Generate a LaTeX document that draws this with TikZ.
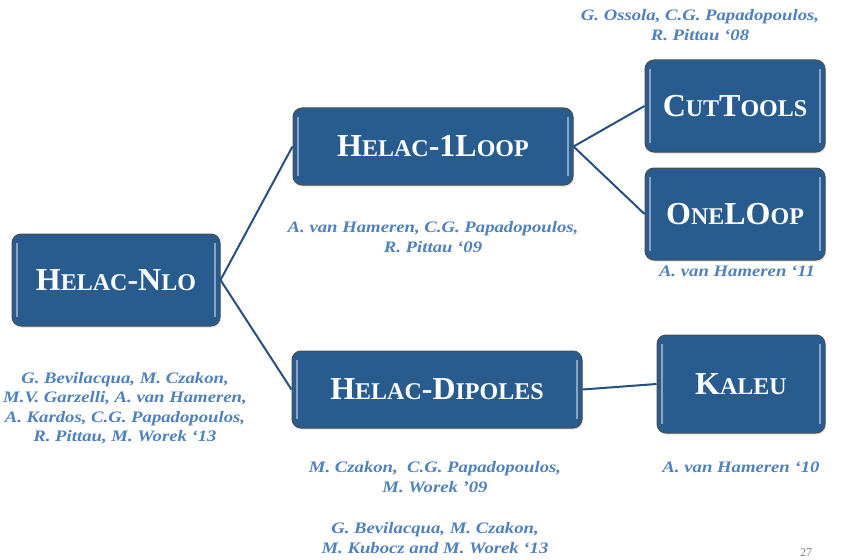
\documentclass[tikz,border=0pt]{standalone}
\usepackage{fontspec}
\setmainfont{Liberation Serif}
\newfontfamily\authfont[Ligatures=TeX,FakeStretch=1.17]{Liberation Serif}
\newfontfamily\progfont[Ligatures=TeX]{Liberation Serif}
\usepackage{xcolor}
\usepackage{tikz}
\usetikzlibrary{shadows}
\definecolor{boxblue}{RGB}{40,92,143}
\definecolor{linkblue}{RGB}{37,80,128}
\definecolor{authblue}{RGB}{79,129,189}
% hand-made small capitals
\newcommand{\smc}[1]{{\fontsize{24}{28}\selectfont #1}}

\begin{document}
\begin{tikzpicture}[x=1pt,y=-1pt,
  prog/.style={draw=black!70, line width=1pt, fill=boxblue, rounded corners=9pt,
    text=white, font=\progfont\fontsize{32}{36}\selectfont\bfseries, inner sep=0pt,
    drop shadow={opacity=0.25, shadow xshift=1pt, shadow yshift=-1.5pt},
    path picture={
      \draw[white!45!boxblue, line width=1.3pt]
        ([xshift=5pt,yshift=-9pt]path picture bounding box.north west) --
        ([xshift=5pt,yshift=9pt]path picture bounding box.south west);
      \draw[white!45!boxblue, line width=1.3pt]
        ([xshift=-5pt,yshift=-9pt]path picture bounding box.north east) --
        ([xshift=-5pt,yshift=9pt]path picture bounding box.south east);
    }},
  auth/.style={text=authblue, font=\authfont\fontsize{16}{19.5}\selectfont\bfseries\itshape, align=center},
  link/.style={draw=linkblue, line width=2pt}]
  \useasboundingbox (0,0) rectangle (842,559);

  % programs
  \node[prog, minimum width=208pt, minimum height=92pt] (nlo) at (116,280) {H\smc{ELAC}-N\smc{LO}};
  \node[prog, minimum width=280pt, minimum height=77pt] (oneloop) at (433,146.5) {H\smc{ELAC}-1L\smc{OOP}};
  \node[prog, minimum width=180pt, minimum height=92pt] (cut) at (735,106) {C\smc{UT}T\smc{OOLS}};
  \node[prog, minimum width=180pt, minimum height=92pt] (olo) at (735,214) {O\smc{NE}LO\smc{OP}};
  \node[prog, minimum width=290pt, minimum height=77pt] (dip) at (437,389.5) {H\smc{ELAC}-D\smc{IPOLES}};
  \node[prog, minimum width=168pt, minimum height=98pt] (kaleu) at (741,384) {K\smc{ALEU}};

  % links
  \draw[link] (nlo.east) -- (oneloop.west);
  \draw[link] (nlo.east) -- (dip.west);
  \draw[link] (oneloop.east) -- (cut.west);
  \draw[link] (oneloop.east) -- (olo.west);
  \draw[link] (dip.east) -- (kaleu.west);

  % authors
  \node[auth] (aCut) at (700,25) {G. Ossola, C.G. Papadopoulos,\\R. Pittau `08};
  \node[auth] (aLoop) at (433,237) {A. van Hameren, C.G. Papadopoulos,\\R. Pittau `09};
  \node[auth] (aOlo) at (737,271) {A. van Hameren `11};
  \node[auth] (aNlo) at (125,408) {G. Bevilacqua, M. Czakon,\\M.V. Garzelli, A. van Hameren,\\A. Kardos, C.G. Papadopoulos,\\R. Pittau, M. Worek `13};
  \node[auth] (aDip) at (435,477) {M. Czakon,~ C.G. Papadopoulos,\\M. Worek '09};
  \node[auth] (aDipb) at (435,538) {G. Bevilacqua, M. Czakon,\\M. Kubocz and M. Worek `13};
  \node[auth] (aKal) at (741,467) {A. van Hameren `10};

  \node[text=gray, font=\fontsize{12}{12}\selectfont, inner sep=0pt, anchor=south] (page) at (806,557) {27};
\end{tikzpicture}
\end{document}
